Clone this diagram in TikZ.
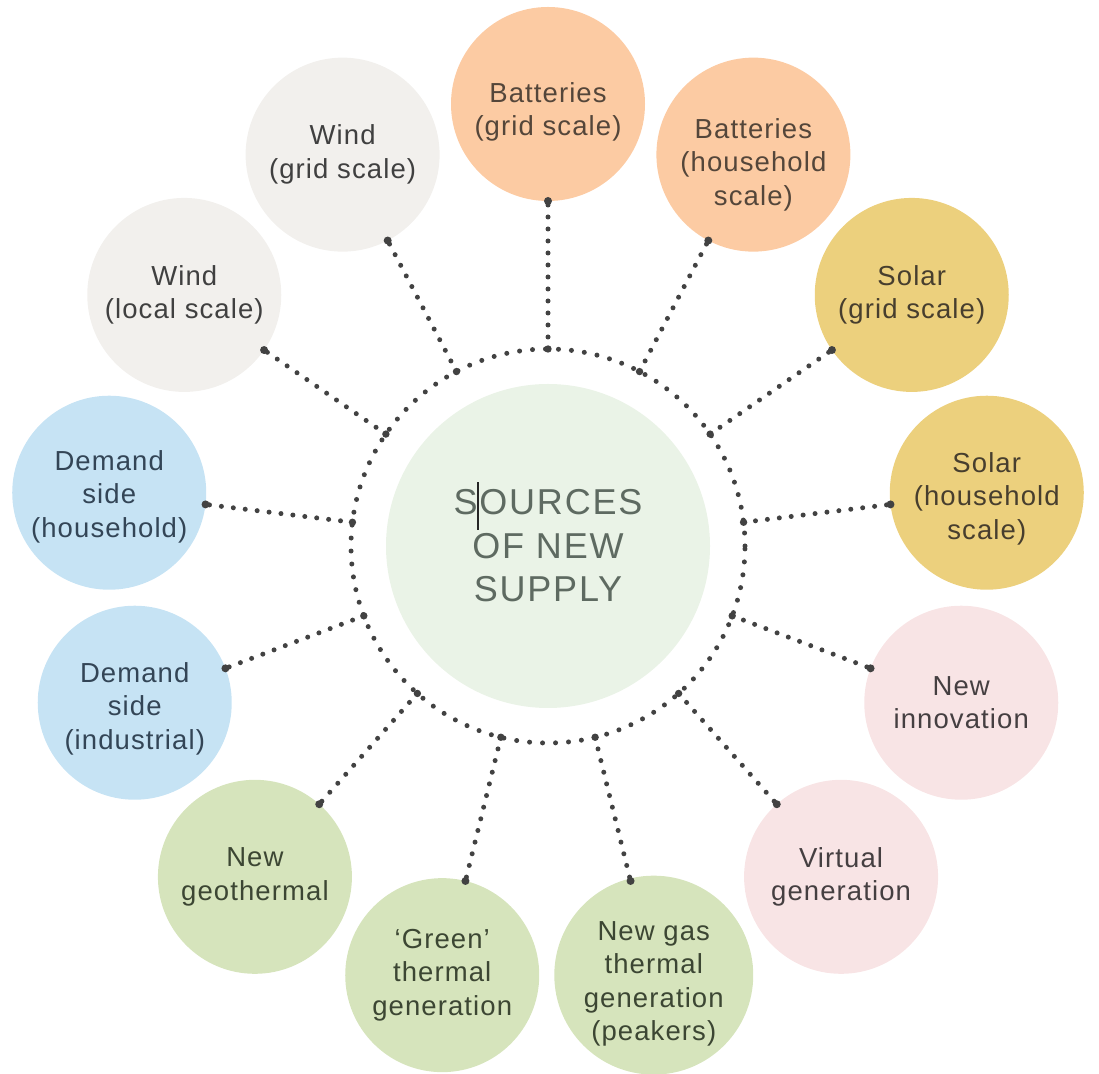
\documentclass[tikz,border=0pt]{standalone}
\usepackage{fontspec}
\setmainfont{Liberation Sans}
\newfontfamily\labelfamily{Liberation Sans}[LetterSpace=4]
\newfontfamily\corefamily{Liberation Sans}[LetterSpace=5]
\usetikzlibrary{calc}

% fills
\definecolor{peachfill}{HTML}{FCCBA3}
\definecolor{solarfill}{HTML}{ECD07D}
\definecolor{windfill}{HTML}{F2F0ED}
\definecolor{demandfill}{HTML}{C6E3F4}
\definecolor{pinkfill}{HTML}{F8E4E5}
\definecolor{greenfill}{HTML}{D6E4BC}
\definecolor{corefill}{HTML}{EAF3E7}
% texts
\definecolor{peachtxt}{HTML}{54463A}
\definecolor{solartxt}{HTML}{473E2E}
\definecolor{windtxt}{HTML}{404040}
\definecolor{demandtxt}{HTML}{334556}
\definecolor{pinktxt}{HTML}{453F41}
\definecolor{greentxt}{HTML}{3C4633}
\definecolor{coretxt}{HTML}{5E6A61}
\definecolor{dotgray}{HTML}{424242}

% extra height on a first line pushes the whole label down by half of it
\newcommand{\labeldrop}[1]{\rule{0pt}{#1}}

\begin{document}
\begin{tikzpicture}[x=1pt,y=1pt,
  src/.style={circle, minimum size=194pt, inner sep=0pt, align=center,
    font={\labelfamily\fontsize{27.5}{33.5}\selectfont}},
  ringdots/.style={draw=dotgray, line width=5pt, line cap=round, dash pattern=on 0pt off 13pt},
  linkdots/.style={draw=dotgray, line width=5pt, line cap=round, dash pattern=on 0pt off 12pt},
]
\useasboundingbox (0,0) rectangle (1099,1073);

% central hub
\node[circle, minimum size=324pt, inner sep=0pt, fill=corefill, text=coretxt, align=center,
  font={\corefamily\fontsize{36}{43.5}\selectfont}] (core) at (548,527)
  {SOURCES\\OF NEW\\SUPPLY};
\draw[black!85, line width=1.5pt] ($(core.center)+(-70,16)$) coordinate (caretlo) -- ($(core.center)+(-70,64)$) coordinate (carethi);

% ring of dots around the hub
\draw[ringdots] (core.center) circle[radius=197pt];

% the thirteen sources, clockwise from the top
\node[src, fill=peachfill,  text=peachtxt]  (n0)  at ($(core.center)+({90-0*360/13}:442)$)  {\labeldrop{36pt}Batteries\\(grid scale)};
\node[src, fill=peachfill,  text=peachtxt]  (n1)  at ($(core.center)+({90-1*360/13}:442)$)  {\labeldrop{40pt}Batteries\\(household\\scale)};
\node[src, fill=solarfill,  text=solartxt]  (n2)  at ($(core.center)+({90-2*360/13}:442)$)  {Solar\\(grid scale)};
\node[src, fill=solarfill,  text=solartxt]  (n3)  at ($(core.center)+({90-3*360/13}:442)$)  {\labeldrop{32pt}Solar\\(household\\scale)};
\node[src, fill=pinkfill,   text=pinktxt]   (n4)  at ($(core.center)+({90-4*360/13}:442)$)  {New\\innovation};
\node[src, fill=pinkfill,   text=pinktxt]   (n5)  at ($(core.center)+({90-5*360/13}:442)$)  {Virtual\\generation};
\node[src, fill=greenfill,  text=greentxt]  (n6)  at ($(core.center)+({90-6*360/13}:442)$)  {\labeldrop{36pt}New gas\\thermal\\generation\\(peakers)};
\node[src, fill=greenfill,  text=greentxt]  (n7)  at ($(core.center)+({90-7*360/13}:442)$)  {‘Green’\\thermal\\generation};
\node[src, fill=greenfill,  text=greentxt]  (n8)  at ($(core.center)+({90-8*360/13}:442)$)  {New\\geothermal};
\node[src, fill=demandfill, text=demandtxt] (n9)  at ($(core.center)+({90-9*360/13}:442)$)  {\labeldrop{32pt}Demand\\side\\(industrial)};
\node[src, fill=demandfill, text=demandtxt] (n10) at ($(core.center)+({90-10*360/13}:442)$) {\labeldrop{28pt}Demand\\side\\(household)};
\node[src, fill=windfill,   text=windtxt]   (n11) at ($(core.center)+({90-11*360/13}:442)$) {Wind\\(local scale)};
\node[src, fill=windfill,   text=windtxt]   (n12) at ($(core.center)+({90-12*360/13}:442)$) {Wind\\(grid scale)};

% dotted spokes from the ring out to each source
\foreach \i in {0,...,12}{
  \coordinate (r\i) at ($(core.center)!197pt!(n\i.center)$);
  \coordinate (e\i) at ($(n\i.center)!97pt!(core.center)$);
  \draw[linkdots] (r\i) -- (n\i);
  \fill[dotgray] (r\i) circle[radius=3.7pt];
  \fill[dotgray] (e\i) circle[radius=4pt];
}
\end{tikzpicture}
\end{document}
